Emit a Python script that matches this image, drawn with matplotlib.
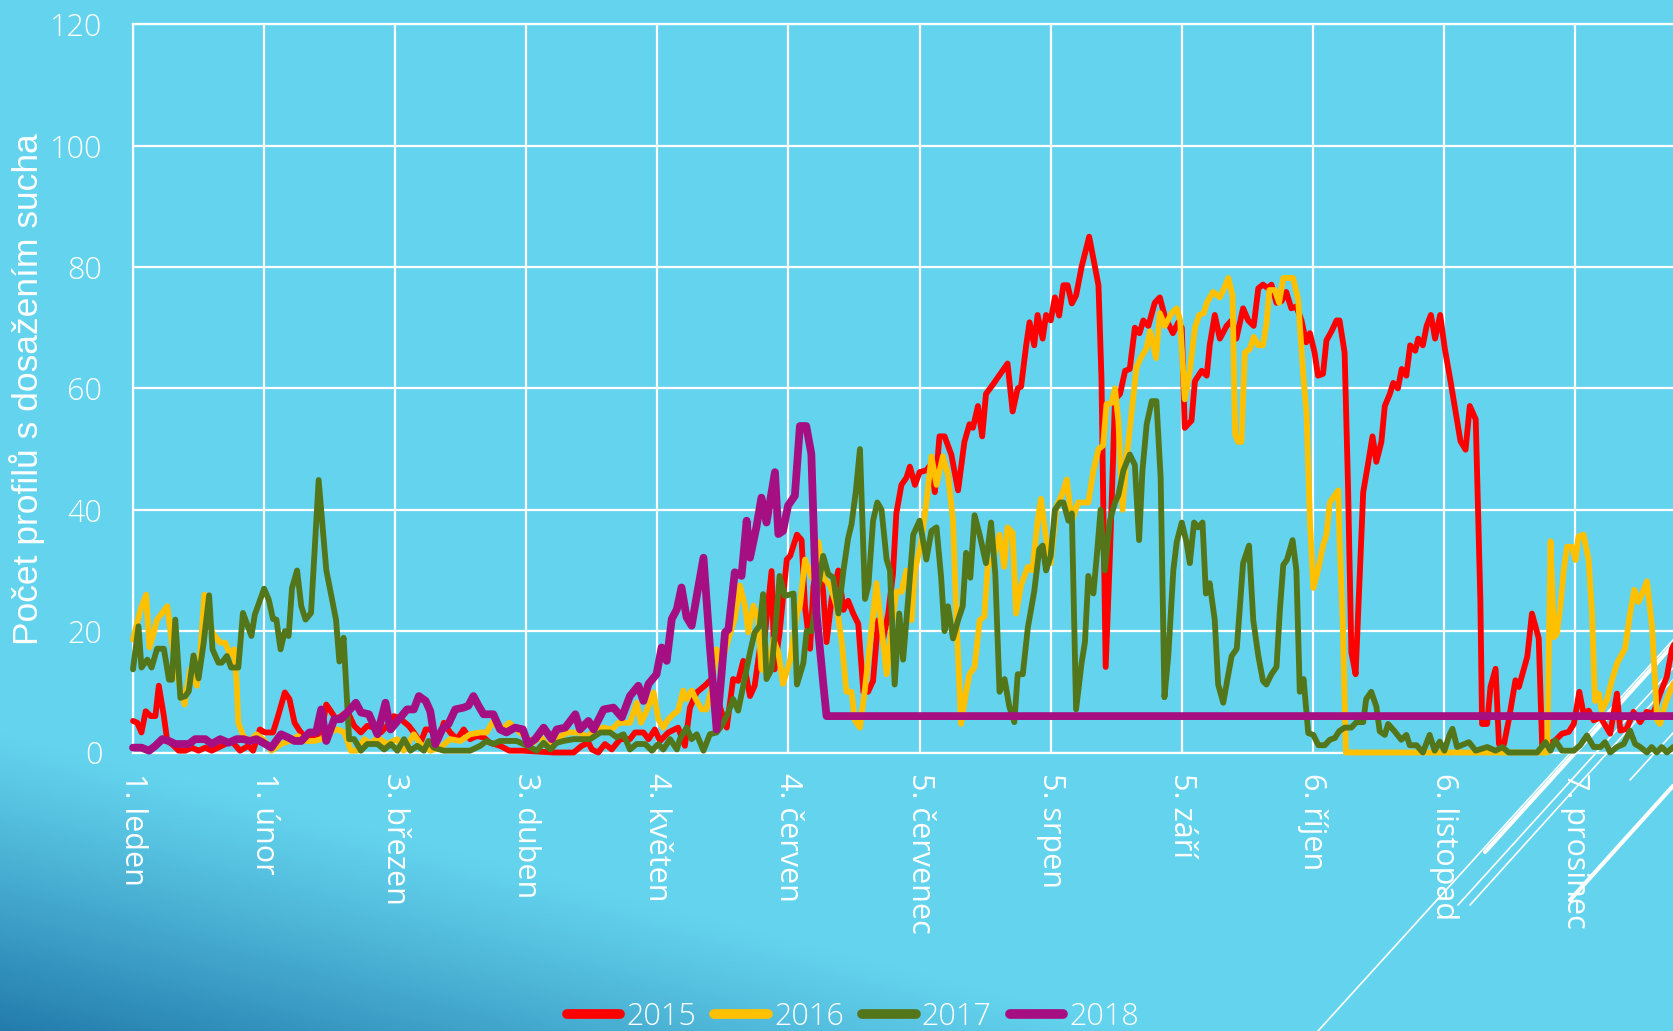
import numpy as np
import matplotlib
matplotlib.use("Agg")
import matplotlib.pyplot as plt
from matplotlib.lines import Line2D

W, H = 1673, 1031
DPI = 100

# ---------------- data ----------------
tick_days = [0, 31, 62, 93, 124, 155, 186, 217, 248, 279, 310, 341]
tick_labels = ["1. leden", "1. únor", "3. březen", "3. duben", "4. květen", "4. červen",
               "5. červenec", "5. srpen", "5. září", "6. říjen", "6. listopad", "7. prosinec"]
y_ticks = [0, 20, 40, 60, 80, 100, 120]
series_names = ["2015", "2016", "2017", "2018"]

pts_2015 = [(0,5.2),(1,4.9),(2,3.3),(3,6.8),(4.2,6),(5.3,6),(6.1,11),(7.3,6),(8.1,1.9),(9.2,1.4),(10.8,0.3),(12.4,0.3),(13.9,0.8),(15.5,0.3),(17.1,0.8),(18.6,0.3),(21,1.1),(23.3,1.9),(25.3,0.3),(27.3,1.1),(28.4,0.3),(30,3.8),(31.2,3.3),(33.1,3.3),(34.3,6),(35.9,9.9),(37,8.8),(38.2,4.9),(39.4,3.6),(41,2.2),(42.5,2.5),(44.5,3.3),(45.7,7.9),(46.8,6.8),(48,5.5),(49.2,6),(50.7,6.8),(52.3,4.4),(53.9,3.3),(55.4,4.4),(57,4.1),(58.6,3.3),(60.1,4.4),(61.7,6),(63.3,5.5),(65.2,4.4),(66.4,3.3),(68,1.6),(69.2,3.8),(70.3,3.8),(72.3,2.2),(73.5,4.9),(75,3.3),(76.6,2.2),(78.2,3.8),(79.7,2.2),(81.3,2.7),(82.9,2.5),(84.4,1.6),(86.8,1.1),(89,0.3),(92.2,0.3),
(99.5,0),(104.2,0),(106.1,1.1),(107.7,1.6),(108.5,0.5),(110,0),(111.6,1.4),(113.2,0.5),(115.2,2.2),(117.5,2.2),(118.7,3.3),(120.7,3.3),(121.9,2.2),(123.4,3.8),(124.6,1.9),(126.6,3.3),(128.9,4.1),(130.5,1.1),(131.7,7.4),(133.3,9.9),(135.2,11),(136.8,12.1),(137.6,10.4),(139.2,6.6),(140.4,4.1),(141.9,12.1),(143.1,11.8),(144.3,15.1),(145.9,9.3),(147,11),(148.2,17),(149.4,19.2),(151,29.9),(151.7,13.7),(152.9,19.8),
(154.6,31.8),(155.4,32.4),(157,35.9),(158.1,35),(158.9,24.1),(160.1,17.1),(160.9,27.4),(162.1,32.4),(163.2,26.5),(164,18.2),(165.2,25.3),(166.8,30),(168,23.5),(169.1,25),(170.3,22.9),(171.5,21.2),(172.7,10),(173.8,10),(175,11.8),(176.2,21.8),(177.4,18.8),(178.6,22.9),(179.7,29.4),(180.5,39.4),(181.7,44.1),(182.9,45.3),(183.7,47.1),(184.9,44.1),(186,46.2),(187.6,46.5),(188.8,47.6),(189.6,42.9),(190.7,52.1),(191.9,52.1),(193.5,49.1),(195.1,43.2),(196.6,51.2),(197.8,54.1),(198.6,53.5),(199.8,57.1),(200.8,52.1),(201.7,59.1),(203.3,60.6),(206.8,64.1),(208,56.2),(209.2,60),(210,60.3),(211.2,67.1),(212,70.9),(213.1,67.1),(213.9,72.1),(215.1,68.2),(215.9,72.1),
(217,71.2),(218,75),(219,72),(220,77),(221,77),(222,74),(223,75.3),(224.3,80),(226.1,85),(228.3,77),(229,61.8),(230,14.1),(231,32.4),(232.2,58.2),(233.4,59.1),(234.6,62.9),(235.7,63.2),(236.9,70),(238,69.1),(238.9,71.2),(240.1,70.3),(241.6,74.1),(242.8,75),(244,71.8),(245.9,69.1),(247.2,70.9),(248,70),(248.7,53.5),(250.3,54.7),(251.1,61.2),(252.7,62.9),(253.9,62.1),(254.6,67.1),(255.8,72.1),(257,68.2),(258.6,70.3),(259.8,71.2),(260.9,68.2),(262.5,73.2),(263.7,71.2),(265,70.3),(266.1,76.5),(267.2,77.1),(268.4,76.5),(269.2,77.1),(270.4,74.1),(271.6,74.4),(272.7,75.9),(273.9,73.2),(275.1,73.5),(276.3,71.2),(277.4,67.6),(278.3,69.1),(279.4,65.9),(280.2,62.1),(281.4,62.4),(282.2,67.9),(283.4,69.4),(284.6,71.2),(285.3,71.2),(286.5,65.9),(287.3,44.1),(288.1,16.5),(289.1,12.9),(290.1,29.4),(290.9,42.9),(292,47.4),(293.1,52.1),(294,47.9),(295.2,51.2),(296,57.1),(297.2,59.1),(298,60.9),(299.1,60),(300,63.2),(301.1,62.1),(302,67.1),(303.2,66.2),(303.9,68.2),(305,67.1),(305.9,70.3),(306.9,72.1),(307.9,68.2),(309.1,72.1),(310.2,66.5),(311.4,61.8),
(313.9,51.3),(315.1,49.9),(316.1,57.1),(317.5,54.9),(318.6,25.1),(319,4.7),(320.2,4.7),(321,10.8),(322.2,13.8),(323,1.4),(324.2,1.4),(325.3,5.3),(326.9,11.9),(327.7,10.8),(329.7,15.8),(330.8,22.9),(332.4,18.8),(333.2,1.4),(334.8,1.4),(336.3,2),(337.9,3.1),(339.5,3.4),(340.7,4.7),(342,10),(343,6.4),(344.2,6.9),(345.4,5.3),(347,5.8),(349.3,3.1),(350.9,9.7),(351.7,3.6),(353.2,3.9),(354.8,6.7),(356.4,5),(357.9,6.7),(359.5,6.4),(361.1,9.7),(362.7,12.5),(363.9,17.1),(366,20)]

pts_2016 = [(0,18.6),(1.8,23.6),(3.1,26),(3.9,17.3),(4.9,19.7),(5.7,21.9),(6.9,23),(8.1,24.1),(8.8,20.3),(10,14.2),(11.2,10.4),(12.2,7.9),(13.5,13.7),(15.1,11),(15.9,16.4),(16.9,26),(17.9,22.5),(18.8,19.7),(20.6,18.1),(21.8,18.1),(22.9,16.2),(23.9,17),(24.5,11.5),(24.9,4.9),(26.1,2.7),(27.6,1.9),(29.2,3),(31.2,1.9),(32.7,0.3),(35,1.4),(37,1.9),(39,2.7),(40.9,1.9),(42.9,1.9),(44.5,2.2),(46,3.3),(48.4,3.8),(50,3.3),(51.5,0.3),(53,0.3),(54.7,2.2),(56.2,1.4),(57.8,2.5),(60,1.4),(62.5,2.2),(64,0.3),(66.4,3),(68,1.4),(70.3,0.3),(72.7,0.8),(75,2.2),(77.4,1.9),(79.7,3),(82.1,3.3),(83.6,3.3),(85.2,5.2),(86.8,3.6),(89,4.9),(91.5,3.3),
(94.7,1.6),(96.3,2.7),(97.9,1.1),(100.2,2.2),(102.6,3.3),(105.7,3.3),(107.3,2.5),(109.3,3.8),(111.3,4.1),(113.2,3.8),(114.8,4.9),(117.5,4.9),(119.1,8.2),(120.1,4.9),(121.3,6.6),(123.1,9.9),(124.2,5.5),(125.4,4.1),(126.6,5.5),(127.8,6.3),(128.9,6.9),(130.1,10.2),(130.9,8.8),(132.1,10.2),(133.3,8.5),(134.5,7.1),(135.6,7.1),(136.8,10.4),(138,17),(139.2,14.8),(140.8,18.7),(142.3,22),(143.5,27.5),(144.7,24.2),(145.5,19.8),(146.7,24.2),(147.8,22),(148.6,13.7),(150.2,13.2),(151.4,18.7),(152.6,16.5),(153.7,11.3),
(155.4,15.3),(157,22.9),(157.7,24.1),(158.9,31.8),(160.5,28.8),(162.1,34.7),(163.2,28.8),(164.8,27.6),(166.4,24.1),(167.6,18.2),(168.7,10),(169.9,10),(170.7,5.3),(171.9,4.1),(173.1,10.6),(174.2,17.6),(175.8,27.9),(177,20.6),(178.2,12.9),(179.4,20.6),(180.5,26.5),(181.7,26.5),(182.9,30),(184.1,21.8),(184.9,30),(186.4,34.7),(187.6,41.2),(188.8,48.8),(190,44.1),(191.5,48.8),(192.7,45.9),(193.9,38.2),(194.7,22.4),(195.8,4.7),(197,10),(197.8,12.9),(199,14.1),(200.2,21.8),(201.3,22.4),(202.1,30.6),(203.3,31.8),(204.9,35.9),(206,30.6),(206.8,37.1),(208,36.2),(208.8,22.9),(210,27.6),(211.6,30.6),(212.7,30),(213.9,38.2),(214.7,41.8),(215.9,35.3),
(217,31.2),(218.4,40.6),(219.6,42.4),(220.8,45),(222,38.2),(223.5,41.2),(225.9,41.2),(227.1,46.5),(228.3,50),(229.4,50.6),(230.2,57.4),(231.4,57.6),(232.2,60),(233,54.7),(234,40),(234.9,48.2),(236.1,55.9),(237.3,63.5),(238.5,65.3),(239.6,66.5),(240.5,69.4),(241.9,65),(242.8,72.4),(244,70.3),(245.6,72.4),(246.8,73.2),(247.6,71.2),(248.7,58.2),(249.9,62.9),(251.1,70),(252.1,72.1),(253.2,72.4),(253.9,74.1),(255.4,75.9),(257,75),(258.2,76.8),(259,78.2),(260,75.3),(260.6,52.4),(261.3,51.2),(262.1,51.2),(262.9,65.9),(264.1,66.5),(265,68.5),(266.1,67.1),(267.2,67.1),(268,70.6),(268.7,76.2),(270,76.2),(271,74.1),(272,78.2),(274.3,78.2),(275.5,74.7),(276.7,62.4),(277.5,55.9),(278.3,38.2),(279.1,27.1),(280.2,30),(281.4,34.1),(282.2,35.9),(283,41.2),(285,43.2),(285.3,35.3),(286.1,20.6),(286.8,0),
(300,0),(320,0),(334.4,0),(335.2,34.8),(336,19),(336.7,19.6),(337.5,24),(338.3,30),(339.1,33.9),(340.3,33.9),(341.1,31.7),(341.8,35.6),(343,35.9),(344.2,31.7),(345,22.9),(345.7,8.5),(346.6,9.7),(347.3,6.9),(348.5,8.6),(349.7,11.9),(350.9,14.7),(352.8,17.1),(354,22.9),(355,26.8),(356,24.8),(357.2,26.8),(358,28.2),(359.2,20.7),(360.4,5.3),(361.1,4.7),(362.3,8),(363.5,10.2),(364.2,11.3),(366,13)]

pts_2017 = [(0,13.7),(1.3,20.8),(2,14),(3.4,15.3),(4.4,14),(5.7,17.1),(7.3,17.1),(8.5,12),(9.2,12),(10,21.9),(11.2,9),(12.4,9.3),(13.2,10.1),(14.3,16),(15.5,12.2),(16.7,18),(18,25.9),(18.8,17),(20.2,14.8),(21,14.8),(22.2,15.9),(23.2,14),(24.9,14),(26,23),(28,19.2),(28.8,22.7),(31,27),(32.1,25.2),(33.1,22),(33.9,21.9),(34.9,17),(35.9,20),(36.8,19.2),(37.6,27.1),(38.8,30),(39.8,24.1),(40.8,21.9),(42.1,23),(43.9,44.9),(45.7,30.1),(48,21.9),(48.8,15),(49.8,18.9),(51.1,2.2),(52.3,2.2),(53.9,0.3),(55.4,1.4),(57.8,1.4),(59.4,0.5),(61,1.4),(62.5,0.3),(64.1,2.2),(65.6,0.3),(67.2,1.1),(68.8,0.3),(69.9,1.9),(71.1,0.8),(73.5,0.3),(79.7,0.3),(82.1,1.1),(83.6,1.9),(85.2,1.4),(86.8,1.9),(90.7,1.9),
(93.2,1.1),(95.5,0.3),(97.1,1.6),(98.7,0.5),(100.2,1.6),(101.8,1.9),(104.2,2.2),(108.1,2.2),(110.5,3.3),(112.8,3.3),(114.4,2.5),(116,3),(117.5,0.5),(119.1,1.4),(121.1,1.4),(122.7,0.3),(124.2,1.4),(125.4,0.5),(127,2.2),(128.6,0.5),(129.3,2.2),(130.9,4.1),(132.1,2.2),(133.3,3),(134.9,0.3),(136.4,3),(138,3.3),(139.2,4.4),(140.4,6),(141.9,8.8),(143.1,6.9),(144.3,11),(145.9,16.5),(147,19.8),(148.2,20.9),(149,26.1),(149.8,12.1),(151,13.7),(151.8,19.8),(152.9,29.1),(154.1,25.8),
(156.2,26.2),(157,11.2),(158.5,14.7),(159.3,20),(160.5,20),(161.7,25.9),(163.2,32.4),(164.4,29.4),(165.6,28.8),(166.8,22.9),(168,30),(169.1,35.3),(169.9,37.6),(170.9,42.9),(171.9,50),(173.1,25.3),(173.9,27.6),(175,38.2),(176,41.2),(177,40),(178.2,31.8),(179,30),(180.1,11.2),(181.2,22.9),(182.1,15.3),(183.3,25.3),(184.5,35.9),(186,38.2),(187.6,31.8),(188.8,36.5),(190,37.1),(191.1,28.8),(191.9,20),(192.7,24.1),(193.9,18.8),(195.1,21.8),(196.2,24.1),(197,32.9),(198,28.8),(199,39.1),(200.2,35.9),(201.7,31.2),(202.9,37.9),(203.9,29.4),(204.9,10),(206.1,12.1),(207.2,7.6),(208.4,5),(209.2,12.9),(210.4,12.9),(211.6,20.6),(213.1,26.5),(214.3,33.5),(215.1,34.1),(215.9,30),
(217,32.4),(218,40),(219.2,41.2),(220,41.2),(221.2,38.2),(222,39.4),(223,7.1),(224.3,14.7),(225.1,18.2),(225.9,29.1),(227.1,26.2),(227.9,32.4),(228.8,40),(229.8,30),(231,38.2),(232.2,41.2),(233,42.4),(234.2,46.5),(235.7,49.1),(236.9,47.4),(237.9,35),(238.7,46.5),(239.7,54.1),(240.9,57.9),(242,57.9),(243,45.3),(243.9,9.1),(244.8,15.9),(246,30),(246.8,34.7),(248,37.9),(249.1,34.7),(249.9,31.2),(250.9,37.9),(251.9,37.1),(252.9,37.9),(253.7,26.2),(254.6,27.9),(255.8,21.8),(256.6,11.2),(257.8,8.2),(259,12.9),(259.8,15.9),(261,17.1),(262.5,31.2),(263.9,34.1),(264.9,21.8),(266.1,15.9),(267.2,11.8),(268,11.2),(269.2,12.9),(270.4,14.1),(271.2,23.5),(272,30.9),(272.9,31.8),(274.2,35),(275.1,30),(275.9,10),(276.8,12.1),(277.9,3.2),(279.1,2.9),(280.3,1.2),(281.8,1.2),(283,2.1),(284.2,2.4),(285.2,3.5),(286.5,4.1),(288.1,4.1),(289.3,5),(290.9,5),(291.6,8.8),(292.8,10),(294,7.6),(294.8,3.5),(296,2.9),(296.8,4.7),(298.3,3.5),(299.9,2.1),(301.1,2.9),(301.9,1.2),(303.5,1.2),(305,0),(306.6,2.9),(307.8,0.3),(309,1.8),(310.1,0.3),(311.3,2.9),
(312,3.9),(313.1,0.9),(315.9,1.7),(317.5,0.3),(320.2,0.9),(322.2,0.3),(323.8,0.9),(325.3,0),(332,0),(334,1.7),(335.2,0.3),(336.3,2),(337.9,0.3),(340.7,0.3),(342.2,1.2),(343.8,2.8),(345.4,0.9),(347,0.9),(348.1,1.7),(349.3,0),(350.9,0.9),(352.5,1.4),(354,3.6),(355.2,1.4),(356.4,0.9),(358,0),(359.1,0.9),(360.3,0),(361.5,0.9),(362.7,0),(364.2,0.9),(366,0.5)]

pts_2018 = [(0,0.8),(2,0.8),(3.8,0.3),(5.3,1.1),(6.9,2.2),(8.5,1.9),(10,1.4),(13.2,1.4),(14.7,2.2),(17.1,2.2),(18.6,1.4),(20.6,2.2),(22.6,1.6),(24.5,2.2),(26.1,2.2),(27.6,1.9),(29.2,2.2),(30.8,1.6),(32.7,0.8),(35,3),(36.6,2.5),(38.2,1.9),(39.8,1.9),(41.7,3.3),(43.3,3.3),(44.5,7.1),(45.7,1.9),(47.6,5.5),(49.2,5.5),(50.7,6.6),(52.7,8.2),(53.9,6.6),(55.8,6.3),(57.8,3),(59.7,8.2),(60.9,3.8),(62.9,5.5),(64.8,7.1),(66.4,7.1),(67.6,9.3),(69.2,8.5),(70.3,6.8),(71.5,1.4),(73.1,3.8),(74.6,4.7),(76.2,7.1),(78.2,7.4),(79.3,7.7),(80.5,9.3),(81.7,7.7),(82.9,6.3),(85.2,6.3),(86.8,3.8),(88.3,3.3),(90.3,4.1),(92.2,3.8),(93.4,1.4),
(95.1,2.2),(97.1,4.1),(99,2.2),(100.2,3.8),(102.2,4.1),(104.6,6.3),(105.7,3.8),(107.7,5.2),(108.9,3.8),(111.3,7.1),(113.6,7.4),(115.6,5.8),(117.5,9.3),(119.5,11),(120.7,8.5),(121.9,11.3),(123.8,12.9),(125,17.3),(126.2,15.1),(127.4,22),(128.6,23.6),(129.7,27.2),(130.9,22.3),(132.1,20.9),(133.3,25.8),(134.9,32.1),(136.4,17.6),(138,3.8),(139.2,13.2),(140,19.8),(140.8,20.3),(142.3,29.7),(143.9,29.1),(145.1,38.2),(145.9,32.1),(147.4,37.1),(148.6,42),(149.8,37.9),(151.8,46.2),(152.6,36),(153.7,36.5),(154.9,40.7),(156.5,42.3),(157.7,53.8),(159.2,53.8),(160.4,49.2),(161.6,23.1),(163.2,11.5),(164,6),(366,6)]

series_pts = [pts_2015, pts_2016, pts_2017, pts_2018]
colors = ["#FF0000", "#FFC000", "#53761B", "#A50F82"]
widths = [4.2, 4.2, 4.2, 5.6]

# ---------------- style ----------------
BG = "#64D4EE"
WHITE = "white"
TICK_FONT = ["Open Sans", "DejaVu Sans"]

fig = plt.figure(figsize=(W / DPI, H / DPI), dpi=DPI)
fig.patch.set_facecolor(BG)

# background decoration axes (pixel coordinates, origin bottom-left)
bg = fig.add_axes([0, 0, 1, 1], zorder=0)
bg.set_xlim(0, W)
bg.set_ylim(0, H)
bg.axis("off")
xx, yy = np.meshgrid(np.arange(W) + 0.5, np.arange(H) + 0.5)
s = xx / 1150.0 + yy / 300.0
alpha = np.clip(1 - s, 0, 1) ** 1.1 * 0.8
img = np.zeros((H, W, 4))
img[..., 0] = 18 / 255
img[..., 1] = 100 / 255
img[..., 2] = 155 / 255
img[..., 3] = alpha
bg.imshow(img, extent=(0, W, 0, H), origin="lower", aspect="auto", interpolation="bilinear")

# decorative white diagonal strokes (lower right), pixel coords
def stroke(x0, y0, x1, y1, lw):
    bg.plot([x0, x1], [H - y0, H - y1], color="white", lw=lw, solid_capstyle="round")

stroke(1318, 1031, 1673, 640, 1.2)
stroke(1458, 905, 1673, 668, 1.2)
stroke(1470, 905, 1673, 680, 1.2)
stroke(1485, 852, 1673, 645, 3.0)
stroke(1570, 900, 1673, 786, 3.0)
stroke(1630, 780, 1673, 733, 1.2)

# main axes
x_per_day = 4.229
ax = fig.add_axes([133 / W, (H - 752.5) / H, 366 * x_per_day / W, (752.5 - 24.3) / H], zorder=1)
ax.patch.set_alpha(0)
ax.set_xlim(0, 366)
ax.set_ylim(0, 120)
ax.set_xticks(tick_days)
ax.set_yticks(y_ticks)
ax.grid(True, color=WHITE, lw=1.6)
ax.set_axisbelow(True)
for side in ["left", "bottom", "top"]:
    ax.spines[side].set_color(WHITE)
    ax.spines[side].set_linewidth(1.6)
ax.spines["right"].set_visible(False)

for pts, c, lw in zip(series_pts, colors, widths):
    d = [p[0] for p in pts]
    v = [p[1] for p in pts]
    ax.plot(d, v, color=c, lw=lw, solid_joinstyle="round", solid_capstyle="round",
            clip_on=False, zorder=3)

ax.tick_params(axis="both", length=0, colors=WHITE)
ax.tick_params(axis="y", pad=22)
ax.tick_params(axis="x", pad=15)
ax.set_yticklabels([str(t) for t in y_ticks], family=TICK_FONT, fontweight="light",
                   fontsize=22, color=WHITE)
ax.set_xticklabels(tick_labels, rotation=270, ha="center", va="top", family=TICK_FONT,
                   fontweight="normal", fontsize=22, color=WHITE)

fig.text(27 / W, 1 - 389 / H, "Počet profilů s dosažením sucha", rotation=90,
         ha="center", va="center", color=WHITE, fontsize=25.5,
         family=["Liberation Sans", "DejaVu Sans"])

handles = [Line2D([], [], color=c, lw=7, solid_capstyle="round") for c in colors]
leg = fig.legend(handles, series_names, loc="center", bbox_to_anchor=(853 / W, 1 - 1017 / H),
                 ncol=4, frameon=False, handlelength=1.75, handletextpad=0.2,
                 columnspacing=0.6, prop={"family": TICK_FONT, "weight": "light", "size": 22})
for t in leg.get_texts():
    t.set_color(WHITE)

fig.savefig("out.png", dpi=DPI, facecolor=BG)
